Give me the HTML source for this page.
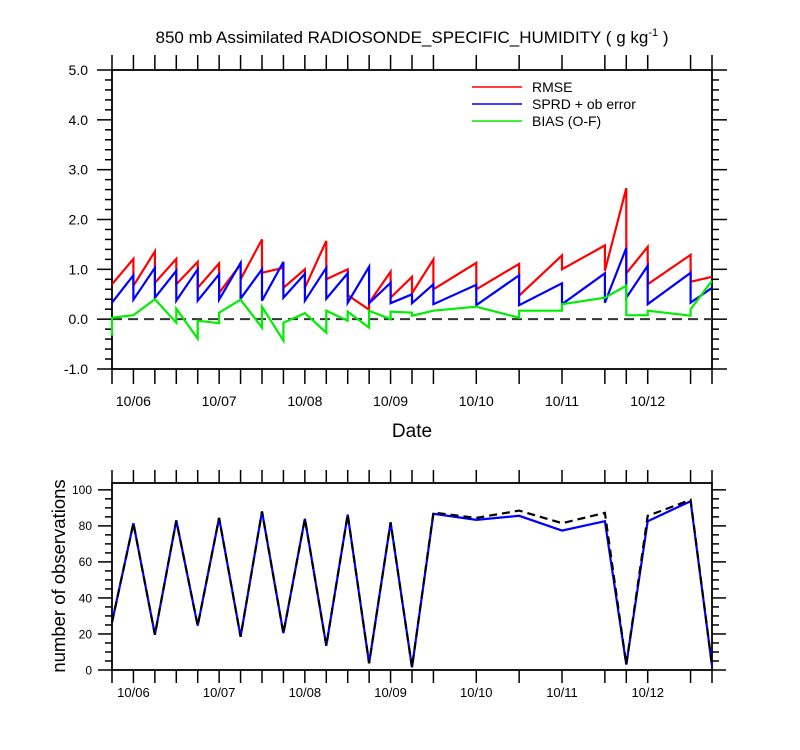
<!DOCTYPE html>
<html><head><meta charset="utf-8"><style>
html,body{margin:0;padding:0;background:#fff;}
svg{display:block;font-family:"Liberation Sans",sans-serif;}
</style></head><body>
<svg id="chart" width="800" height="750" viewBox="0 0 800 750" xmlns="http://www.w3.org/2000/svg"></svg>
<script>
// ---- data (time index in 6-hour steps from 10/05 18Z) ----
const rmseT = [0,1,1,2,2,3,3,4,4,5,5,6,6,7,7,8,8,9,9,10,10,11,11,12,12,13,13,14,14,15,15,17,17,19,19,21,21,23,23,24,24,25,25,27,27,28];
const rmseV = [0.70,1.21,0.67,1.36,0.73,1.21,0.70,1.15,0.63,1.12,0.53,1.10,0.80,1.60,0.93,1.03,0.63,1.00,0.63,1.57,0.80,1.00,0.48,0.19,0.33,0.95,0.43,0.85,0.52,1.20,0.60,1.13,0.60,1.11,0.47,1.28,1.00,1.48,0.97,2.63,0.92,1.45,0.70,1.29,0.75,0.85];
const sprdT = rmseT;
const sprdV = [0.33,0.88,0.39,1.03,0.43,0.97,0.37,1.00,0.37,0.90,0.39,1.13,0.41,1.00,0.37,1.15,0.43,0.91,0.37,1.03,0.41,0.92,0.33,1.05,0.32,0.73,0.32,0.50,0.32,0.70,0.30,0.69,0.28,0.88,0.28,0.72,0.30,0.92,0.33,1.43,0.43,1.07,0.30,0.93,0.33,0.63];
const biasT = [0,0,1,2,3,3,4,4,5,5,6,7,7,8,8,9,10,10,11,11,12,12,13,13,14,14,15,17,19,19,21,21,23,24,24,25,25,27,27,28];
const biasV = [-0.33,0.03,0.08,0.40,-0.07,0.21,-0.39,-0.03,-0.08,0.13,0.39,-0.17,0.25,-0.43,-0.07,0.12,-0.27,0.17,-0.03,0.15,-0.17,0.17,0.00,0.15,0.13,0.07,0.17,0.25,0.03,0.17,0.17,0.30,0.43,0.67,0.08,0.08,0.17,0.07,0.20,0.77];
const obsT = [0,1,2,3,4,5,6,7,8,9,10,11,12,13,14,15,17,19,21,23,24,25,27,28];
const obsUsed = [26.5,81.5,19.6,83,24.6,84.4,18.5,88,20.4,84,13.5,86.3,3.7,82,1.5,86.7,83.3,85.6,77.4,82.6,3,82.6,93.7,2.4];
const obsPossible = [26.5,81.5,19.6,83,24.6,84.4,18.5,88,20.4,84,13.5,86.3,3.7,82,1.5,87.4,84.4,88.5,81.5,87.2,3,85.6,94.4,2.4];
const dayLabels = ["10/06","10/07","10/08","10/09","10/10","10/11","10/12"];
const dayTimes = [1,5,9,13,17,21,25];
const topYTicks = [-1,0,1,2,3,4,5];
const botYTicks = [0,20,40,60,80,100];

const NS="http://www.w3.org/2000/svg";
const svg=document.getElementById('chart');
function mk(tag,attrs,parent){const e=document.createElementNS(NS,tag);for(const k in attrs)e.setAttribute(k,attrs[k]);(parent||svg).appendChild(e);return e;}
const allTimes=[...new Set(rmseT.concat(obsT))].sort((a,b)=>a-b);

const X0=112,X1=712,TMAX=28;
const xS=t=>X0+(X1-X0)*t/TMAX;
const T0=70,T1=369,yMinT=-1,yMaxT=5;
const yT=v=>T1-(v-yMinT)/(yMaxT-yMinT)*(T1-T0);
const B0=483,B1=670,yMaxB=103.8;
const yB=v=>B1-v/yMaxB*(B1-B0);

let e=mk('text',{x:412,y:43,'text-anchor':'middle','font-size':17});


e.innerHTML='850 mb Assimilated RADIOSONDE_SPECIFIC_HUMIDITY ( g kg<tspan font-size="11" dy="-7">-1</tspan><tspan dy="7"> )</tspan>';

function panel(top,bot,yf,yTicks,minorStep,majLen,minLen,xTickLen,labFmt,labSize,labGap,name){
  const g=mk('g',{});
  
  
  const lo=yTicks[0],hi=yTicks[yTicks.length-1];
  for(let v=lo;v<=hi+1e-9;v+=minorStep){
    const major=yTicks.some(m=>Math.abs(m-v)<1e-6);
    const L=major?majLen:minLen,y=yf(v);
    mk('line',{x1:X0-L,x2:X0,y1:y,y2:y,stroke:'#000','stroke-width':1.5},g);
    mk('line',{x1:X1,x2:X1+L,y1:y,y2:y,stroke:'#000','stroke-width':1.5},g);
  }
  yTicks.forEach(v=>{
    const t=mk('text',{x:X0-majLen-labGap,y:yf(v)+labSize*0.36,'text-anchor':'end','font-size':labSize},g);
    
    
    t.textContent=labFmt(v);
  });
  allTimes.forEach(t=>{
    const x=xS(t);
    mk('line',{x1:x,x2:x,y1:top-xTickLen,y2:top,stroke:'#000','stroke-width':1.5},g);
    mk('line',{x1:x,x2:x,y1:bot,y2:bot+xTickLen,stroke:'#000','stroke-width':1.5},g);
  });
  const r=mk('rect',{x:X0,y:top,width:X1-X0,height:bot-top,fill:'none',stroke:'#000','stroke-width':1.8},g);
  
  
  return g;
}
panel(T0,T1,yT,topYTicks,0.2,15,7,15,v=>v.toFixed(1),14,9,'top-panel');
panel(B0,B1,yB,botYTicks,5,14,7,13,v=>String(v),12,6,'bottom-panel');

dayLabels.forEach((d,i)=>{
  let t=mk('text',{x:xS(dayTimes[i]),y:406,'text-anchor':'middle','font-size':14});
  
  
  t.textContent=d;
  t=mk('text',{x:xS(dayTimes[i]),y:697,'text-anchor':'middle','font-size':13});
  
  
  t.textContent=d;
});
e=mk('text',{x:412,y:437,'text-anchor':'middle','font-size':19});


e.textContent='Date';
e=mk('text',{x:0,y:0,'text-anchor':'middle','font-size':18.5,transform:'translate(65,576) rotate(-90)'});


e.textContent='number of observations';

e=mk('line',{x1:X0,x2:X1,y1:yT(0),y2:yT(0),stroke:'#333','stroke-width':2,'stroke-dasharray':'10 6'});



function series(T,V,xf,yf,color,name,dash){
  const d=T.map((t,i)=>(i?'L':'M')+xf(t).toFixed(1)+' '+yf(V[i]).toFixed(1)).join(' ');
  const p=mk('path',{d:d,fill:'none',stroke:color,'stroke-width':2.2,'stroke-linejoin':'miter'});
  if(dash)p.setAttribute('stroke-dasharray',dash);
  
  
}
series(rmseT,rmseV,xS,yT,'#ff0000','rmse-line');
series(sprdT,sprdV,xS,yT,'#0000ff','spread-line');
series(biasT,biasV,xS,yT,'#00ee00','bias-line');
series(obsT,obsUsed,xS,yB,'#0000ff','obs-used-line');
series(obsT,obsPossible,xS,yB,'#000000','obs-possible-line','8 5');

const leg=[['RMSE','#ff0000'],['SPRD + ob error','#0000ff'],['BIAS (O-F)','#00ee00']];
leg.forEach((l,i)=>{
  const y=87+i*17;
  const g=mk('g',{});
  
  
  mk('line',{x1:472,x2:522,y1:y,y2:y,stroke:l[1],'stroke-width':1.5},g);
  const t=mk('text',{x:532,y:y+5,'font-size':14},g);
  t.textContent=l[0];
});
</script>
</body></html>
